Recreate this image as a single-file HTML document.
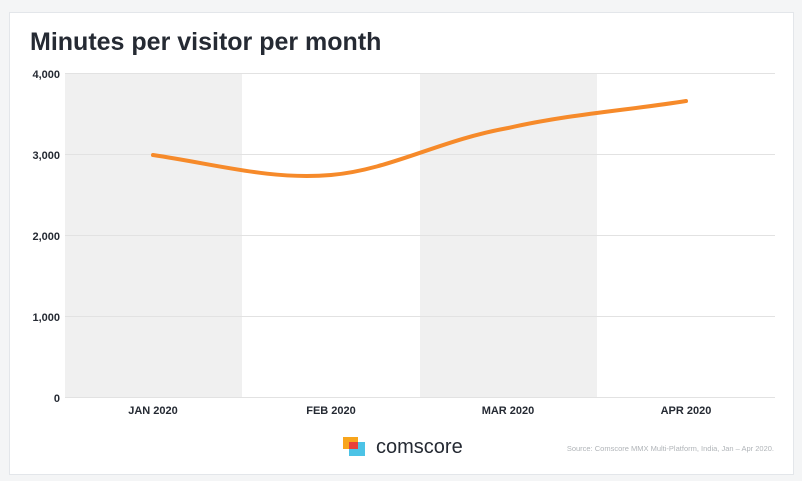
<!DOCTYPE html>
<html><head><style>
body{margin:0;background:#f4f5f6;width:802px;height:481px;overflow:hidden;font-family:"Liberation Sans",sans-serif;}
.card{position:absolute;left:9px;top:12px;width:783px;height:461px;background:#fff;border:1px solid #e3e6ea;}
</style></head><body>
<div class="card"></div>
<svg width="802" height="481" style="position:absolute;left:0;top:0" font-family="Liberation Sans, sans-serif">
<text x="30" y="50" font-size="25" font-weight="bold" fill="#252a33">Minutes per visitor per month</text>
<rect x="65" y="73" width="177" height="324" fill="#f0f0f0"/>
<rect x="420" y="73" width="177" height="324" fill="#f0f0f0"/>
<g stroke="#e2e2e2" stroke-width="1">
<line x1="65" y1="73.5" x2="775" y2="73.5"/>
<line x1="65" y1="154.5" x2="775" y2="154.5"/>
<line x1="65" y1="235.5" x2="775" y2="235.5"/>
<line x1="65" y1="316.5" x2="775" y2="316.5"/>
<line x1="65" y1="397.5" x2="775" y2="397.5"/>
</g>
<g font-size="11" font-weight="bold" fill="#252a33" text-anchor="end">
<text x="60" y="78">4,000</text><text x="60" y="159">3,000</text><text x="60" y="240">2,000</text><text x="60" y="321">1,000</text><text x="60" y="402">0</text>
</g>
<g font-size="11" font-weight="bold" fill="#252a33" text-anchor="middle">
<text x="153" y="414">JAN 2020</text><text x="331" y="414">FEB 2020</text><text x="508" y="414">MAR 2020</text><text x="686" y="414">APR 2020</text>
</g>
<path d="M153,155 C220,165 270,180 331,175 C390,170 440,140 508,128 C570,114 630,110 686,101" fill="none" stroke="#f68a2a" stroke-width="4" stroke-linecap="round"/>
<rect x="343" y="437" width="15" height="12" fill="#f8a51c"/>
<rect x="349" y="442" width="16" height="14" fill="#4cc3e6"/>
<rect x="349" y="442" width="9" height="7" fill="#e8403a"/>
<text x="376" y="453" font-size="20" fill="#252a33">comscore</text>
<text x="774" y="451" font-size="7.5" fill="#b0b4b8" text-anchor="end">Source: Comscore MMX Multi-Platform, India, Jan – Apr 2020.</text>
</svg>
</body></html>
